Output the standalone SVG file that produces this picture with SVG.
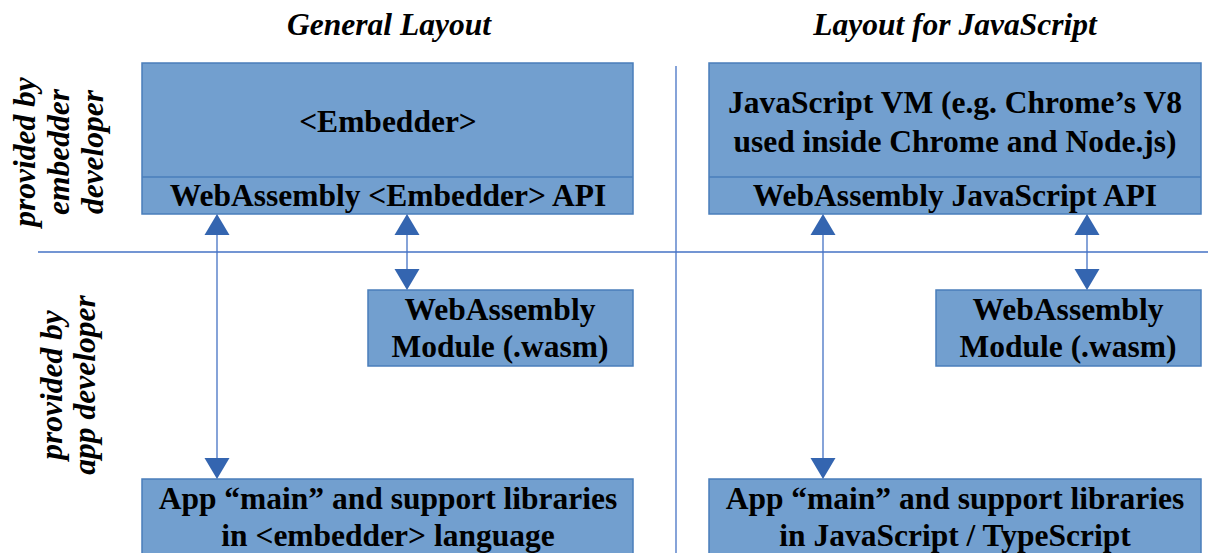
<svg xmlns="http://www.w3.org/2000/svg" width="1208" height="553" viewBox="0 0 1208 553">
<defs>
<polygon id="ahUp" points="0,0 -12.5,21 12.5,21" fill="#3465b0"/>
<polygon id="ahDown" points="0,0 -12.5,-21 12.5,-21" fill="#3465b0"/>
</defs>
<rect width="1208" height="553" fill="#fff"/>
<g id="titles">
<text x="389" y="35" font-family="Liberation Serif" font-weight="bold" font-style="italic" font-size="31.5" text-anchor="middle">General Layout</text>
<text x="955" y="35" font-family="Liberation Serif" font-weight="bold" font-style="italic" font-size="31.5" text-anchor="middle">Layout for JavaScript</text>
</g>
<g id="side-labels">
<text transform="translate(35,152) rotate(-90)" font-family="Liberation Serif" font-weight="bold" font-style="italic" font-size="31.5" text-anchor="middle">provided by</text>
<text transform="translate(69,152) rotate(-90)" font-family="Liberation Serif" font-weight="bold" font-style="italic" font-size="31.5" text-anchor="middle">embedder</text>
<text transform="translate(103,152) rotate(-90)" font-family="Liberation Serif" font-weight="bold" font-style="italic" font-size="31.5" text-anchor="middle">developer</text>
<text transform="translate(62,385) rotate(-90)" font-family="Liberation Serif" font-weight="bold" font-style="italic" font-size="31.5" text-anchor="middle">provided by</text>
<text transform="translate(95,385) rotate(-90)" font-family="Liberation Serif" font-weight="bold" font-style="italic" font-size="31.5" text-anchor="middle">app developer</text>
</g>
<g id="dividers">
<line x1="38" y1="252" x2="1208" y2="252" stroke="#4472c4" stroke-width="1.3"/>
<line x1="676" y1="66" x2="676" y2="553" stroke="#4472c4" stroke-width="1.3"/>
</g>
<g id="embedder">
<rect x="142" y="63" width="491" height="151" fill="#729fcf" stroke="#4a7ebb" stroke-width="1.5"/>
<line x1="142" y1="177" x2="633" y2="177" stroke="#4a7ebb" stroke-width="1.3"/>
<text x="388" y="132" font-family="Liberation Serif" font-weight="bold" font-size="31.5" text-anchor="middle">&lt;Embedder&gt;</text>
<text x="388" y="206" font-family="Liberation Serif" font-weight="bold" font-size="31.5" text-anchor="middle">WebAssembly &lt;Embedder&gt; API</text>
</g>
<g id="js-vm">
<rect x="709" y="63" width="492" height="151" fill="#729fcf" stroke="#4a7ebb" stroke-width="1.5"/>
<line x1="709" y1="177" x2="1201" y2="177" stroke="#4a7ebb" stroke-width="1.3"/>
<text x="955" y="113" font-family="Liberation Serif" font-weight="bold" font-size="31.5" text-anchor="middle">JavaScript VM (e.g. Chrome’s V8</text>
<text x="955" y="152" font-family="Liberation Serif" font-weight="bold" font-size="31.5" text-anchor="middle">used inside Chrome and Node.js)</text>
<text x="955" y="206" font-family="Liberation Serif" font-weight="bold" font-size="31.5" text-anchor="middle">WebAssembly JavaScript API</text>
</g>
<g id="module-left">
<rect x="368" y="290" width="265" height="76" fill="#729fcf" stroke="#4a7ebb" stroke-width="1.5"/>
<text x="500" y="320" font-family="Liberation Serif" font-weight="bold" font-size="31.5" text-anchor="middle">WebAssembly</text>
<text x="500" y="357" font-family="Liberation Serif" font-weight="bold" font-size="31.5" text-anchor="middle">Module (.wasm)</text>
</g>
<g id="module-right">
<rect x="936" y="290" width="265" height="76" fill="#729fcf" stroke="#4a7ebb" stroke-width="1.5"/>
<text x="1068" y="320" font-family="Liberation Serif" font-weight="bold" font-size="31.5" text-anchor="middle">WebAssembly</text>
<text x="1068" y="357" font-family="Liberation Serif" font-weight="bold" font-size="31.5" text-anchor="middle">Module (.wasm)</text>
</g>
<g id="app-left">
<rect x="142" y="479" width="491" height="80" fill="#729fcf" stroke="#4a7ebb" stroke-width="1.5"/>
<text x="388" y="509" font-family="Liberation Serif" font-weight="bold" font-size="31.5" text-anchor="middle">App “main” and support libraries</text>
<text x="388" y="546" font-family="Liberation Serif" font-weight="bold" font-size="31.5" text-anchor="middle">in &lt;embedder&gt; language</text>
</g>
<g id="app-right">
<rect x="709" y="479" width="492" height="80" fill="#729fcf" stroke="#4a7ebb" stroke-width="1.5"/>
<text x="955" y="509" font-family="Liberation Serif" font-weight="bold" font-size="31.5" text-anchor="middle">App “main” and support libraries</text>
<text x="955" y="546" font-family="Liberation Serif" font-weight="bold" font-size="31.5" text-anchor="middle">in JavaScript / TypeScript</text>
</g>
<g id="connectors">
<line x1="217" y1="235" x2="217" y2="458" stroke="#4472c4" stroke-width="1.3"/>
<use href="#ahUp" x="217" y="214"/>
<use href="#ahDown" x="217" y="479"/>
<line x1="407" y1="235" x2="407" y2="269" stroke="#4472c4" stroke-width="1.3"/>
<use href="#ahUp" x="407" y="214"/>
<use href="#ahDown" x="407" y="290"/>
<line x1="823" y1="235" x2="823" y2="458" stroke="#4472c4" stroke-width="1.3"/>
<use href="#ahUp" x="823" y="214"/>
<use href="#ahDown" x="823" y="479"/>
<line x1="1087" y1="235" x2="1087" y2="269" stroke="#4472c4" stroke-width="1.3"/>
<use href="#ahUp" x="1087" y="214"/>
<use href="#ahDown" x="1087" y="290"/>
</g>
</svg>
